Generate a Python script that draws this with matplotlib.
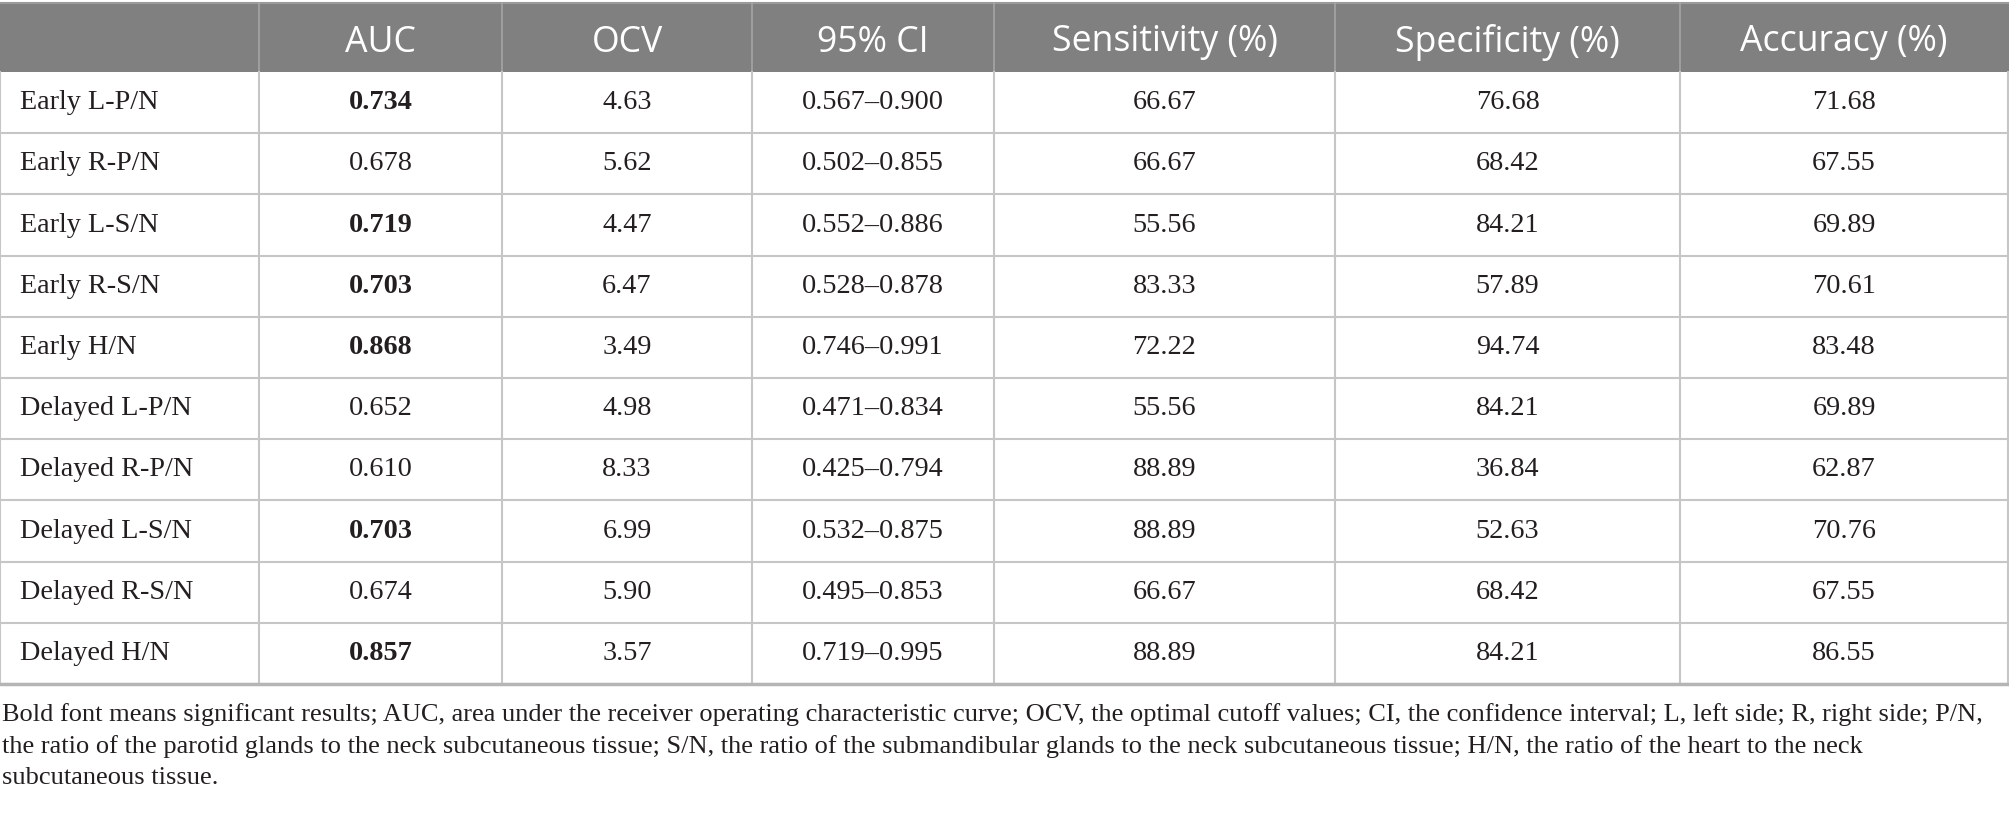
import matplotlib
matplotlib.use("Agg")
import matplotlib.pyplot as plt
from matplotlib.patches import Rectangle

headers = ["", "AUC", "OCV", "95% CI", "Sensitivity (%)", "Specificity (%)", "Accuracy (%)"]
rows = ["Early L-P/N", "Early R-P/N", "Early L-S/N", "Early R-S/N", "Early H/N",
        "Delayed L-P/N", "Delayed R-P/N", "Delayed L-S/N", "Delayed R-S/N", "Delayed H/N"]
auc = ["0.734", "0.678", "0.719", "0.703", "0.868", "0.652", "0.610", "0.703", "0.674", "0.857"]
auc_bold = [True, False, True, True, True, False, False, True, False, True]
ocv = ["4.63", "5.62", "4.47", "6.47", "3.49", "4.98", "8.33", "6.99", "5.90", "3.57"]
ci = ["0.567\u20130.900", "0.502\u20130.855", "0.552\u20130.886", "0.528\u20130.878", "0.746\u20130.991",
      "0.471\u20130.834", "0.425\u20130.794", "0.532\u20130.875", "0.495\u20130.853", "0.719\u20130.995"]
sens = ["66.67", "66.67", "55.56", "83.33", "72.22", "55.56", "88.89", "88.89", "66.67", "88.89"]
spec = ["76.68", "68.42", "84.21", "57.89", "94.74", "84.21", "36.84", "52.63", "68.42", "84.21"]
acc = ["71.68", "67.55", "69.89", "70.61", "83.48", "69.89", "62.87", "70.76", "67.55", "86.55"]
footnote = [
    "Bold font means significant results; AUC, area under the receiver operating characteristic curve; "
    "OCV, the optimal cutoff values; CI, the confidence interval; L, left side; R, right side; P/N,",
    "the ratio of the parotid glands to the neck subcutaneous tissue; S/N, the ratio of the submandibular "
    "glands to the neck subcutaneous tissue; H/N, the ratio of the heart to the neck",
    "subcutaneous tissue.",
]

W, H = 2009, 814
col_edges = [0, 259, 502, 752, 994, 1335, 1680, 2008]
top, head_bot, row_h = 3, 72, 61.2
grid = "#c6c6c6"
head_bg = "#808080"
ink = "#231f20"

fig = plt.figure(figsize=(W / 100, H / 100), dpi=100)
ax = fig.add_axes([0, 0, 1, 1])
ax.set_xlim(0, W)
ax.set_ylim(H, 0)
ax.axis("off")

# header
ax.add_patch(Rectangle((0, top), W, head_bot - top, color=head_bg, lw=0))
ax.plot([0, W], [top, top], color="#9a9a9a", lw=1.5)
for i, h in enumerate(headers):
    xc = (col_edges[i] + col_edges[i + 1]) / 2
    ax.text(xc, (top + head_bot) / 2 + 5, h, ha="center", va="center", color="white",
            fontsize=25.7, family="Open Sans")
for x in col_edges[1:-1]:
    ax.plot([x, x], [top, head_bot], color="#a5a5a5", lw=1.2)

# body
columns = [auc, ocv, ci, sens, spec, acc]
for r, name in enumerate(rows):
    y0 = head_bot + r * row_h
    yc = y0 + row_h / 2
    ax.text(col_edges[0] + 20, yc, name, ha="left", va="center", color=ink,
            fontsize=20.3, family="Liberation Serif")
    for c, vals in enumerate(columns):
        xc = (col_edges[c + 1] + col_edges[c + 2]) / 2
        bold = c == 0 and auc_bold[r]
        ax.text(xc, yc, vals[r], ha="center", va="center", color=ink, fontsize=20.3,
                family="Liberation Serif", fontweight="bold" if bold else "normal")
    ax.plot([0, W], [y0 + row_h, y0 + row_h], color=grid, lw=1.5)

bottom = head_bot + len(rows) * row_h
for x in col_edges:
    ax.plot([x, x], [head_bot, bottom], color=grid, lw=1.5)
ax.plot([0, W], [bottom, bottom], color="#b5b5b5", lw=2.5)

# footnote
for i, line in enumerate(footnote):
    ax.text(2, 715 + i * 31.5, line, ha="left", va="center", color=ink,
            fontsize=19, family="Liberation Serif")

fig.savefig("out.png", dpi=100)
